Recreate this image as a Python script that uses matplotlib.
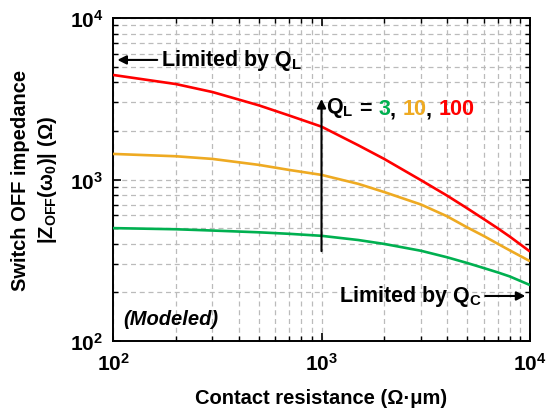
import matplotlib
matplotlib.use('Agg')
import matplotlib.pyplot as plt

# ---- data ----
contact_resistance = [100, 200, 300, 500, 700, 1000, 1500, 2000, 3000, 4000, 5000, 6000, 7000, 8000, 10000]
z_ql3 = [500, 492, 483, 471, 461, 448, 422, 399, 362, 330, 304, 283, 266, 251, 222]
z_ql10 = [1440, 1393, 1341, 1232, 1146, 1068, 940, 836, 700, 592, 505, 447, 400, 364, 312]
z_ql100 = [4440, 3900, 3480, 2880, 2490, 2125, 1630, 1340, 990, 795, 663, 569, 499, 443, 358]
ql_labels = ['3', '10', '100']
x_ticks = [1e2, 1e3, 1e4]
x_tick_labels = [r'$10^{2}$', r'$10^{3}$', r'$10^{4}$']
y_ticks = [1e2, 1e3, 1e4]
y_tick_labels = [r'$10^{2}$', r'$10^{3}$', r'$10^{4}$']

plt.rcParams['font.family'] = ['Liberation Sans', 'DejaVu Sans']
plt.rcParams['font.weight'] = 'bold'
plt.rcParams['mathtext.fontset'] = 'custom'
plt.rcParams['mathtext.rm'] = 'Liberation Sans:bold'
plt.rcParams['mathtext.bf'] = 'Liberation Sans:bold'
plt.rcParams['mathtext.it'] = 'Liberation Sans:bold:italic'
plt.rcParams['mathtext.sf'] = 'Liberation Sans:bold'
plt.rcParams['mathtext.default'] = 'rm'

GREEN = '#00B050'
ORANGE = '#EEAA22'
RED = '#FF0000'
FS = 15.5

W, H = 551, 414
fig = plt.figure(figsize=(W / 100, H / 100), dpi=100)
L, R, T, B = 113, 530, 19, 342
ax = fig.add_axes([L / W, 1 - B / H, (R - L) / W, (B - T) / H])
ax.set_xscale('log')
ax.set_yscale('log')
ax.set_xlim(1e2, 1e4)
ax.set_ylim(1e2, 1e4)

for ys, c in [(z_ql3, GREEN), (z_ql10, ORANGE), (z_ql100, RED)]:
    ax.plot(contact_resistance, ys, color=c, lw=1.9, solid_capstyle='butt', zorder=3)

ax.grid(True, which='both', linestyle=(0, (4, 3)), color='#BBBBBB', lw=0.9)
ax.set_axisbelow(True)

ax.set_xticks(x_ticks)
ax.set_xticklabels(x_tick_labels)
ax.set_yticks(y_ticks)
ax.set_yticklabels(y_tick_labels)
ax.tick_params(which='both', direction='in', top=True, right=True, labelsize=15)
ax.tick_params(which='major', length=6, width=1.2)
ax.tick_params(which='minor', length=3.5, width=1.0)
ax.tick_params(axis='x', which='major', pad=8)
ax.tick_params(axis='y', which='major', pad=7)
for s in ax.spines.values():
    s.set_linewidth(1.4)

ax.set_xlabel('Contact resistance (\u03a9\u00b7\u03bcm)', fontsize=14.5, fontweight='bold', labelpad=10)
ax.set_ylabel('Switch OFF impedance\n' + r'$|Z_{OFF}(\omega_0)|\ (\Omega)$', fontsize=14.5,
              fontweight='bold', labelpad=8, linespacing=1.35)

arrow_kw = dict(arrowstyle='-|>', color='black', lw=1.5, mutation_scale=13, shrinkA=0, shrinkB=0)

# annotations
ax.annotate('', xy=(105, 5500), xytext=(163, 5500), arrowprops=arrow_kw)
ax.text(170, 5500, r'Limited by $Q_L$', fontsize=FS, fontweight='bold', va='center', ha='left')

ax.annotate('', xy=(1000, 3150), xytext=(1000, 360), arrowprops=arrow_kw)
t0 = ax.text(1055, 2600, r'$Q_L$', fontsize=FS, fontweight='bold', va='baseline', ha='left')
prev = ax.annotate(' = ', xy=(1, 0), xycoords=t0, fontsize=FS, fontweight='bold',
                   va='bottom', ha='left')
for lab, col, sep in [(ql_labels[0], GREEN, ', '), (ql_labels[1], ORANGE, ', '), (ql_labels[2], RED, '')]:
    t = ax.annotate(lab, xy=(1, 0), xycoords=prev, color=col, fontsize=FS, fontweight='bold',
                    va='bottom', ha='left')
    prev = t
    if sep:
        prev = ax.annotate(sep, xy=(1, 0), xycoords=prev, color='black', fontsize=FS,
                           fontweight='bold', va='bottom', ha='left')

ax.annotate('', xy=(9500, 190), xytext=(6100, 190), arrowprops=arrow_kw)
ax.text(5850, 190, r'Limited by $Q_C$', fontsize=FS, fontweight='bold', va='center', ha='right')

ax.text(0.025, 0.04, '(Modeled)', transform=ax.transAxes, fontsize=14.5, fontweight='bold',
        fontstyle='italic', va='bottom', ha='left')

fig.savefig('out.png', dpi=100)
